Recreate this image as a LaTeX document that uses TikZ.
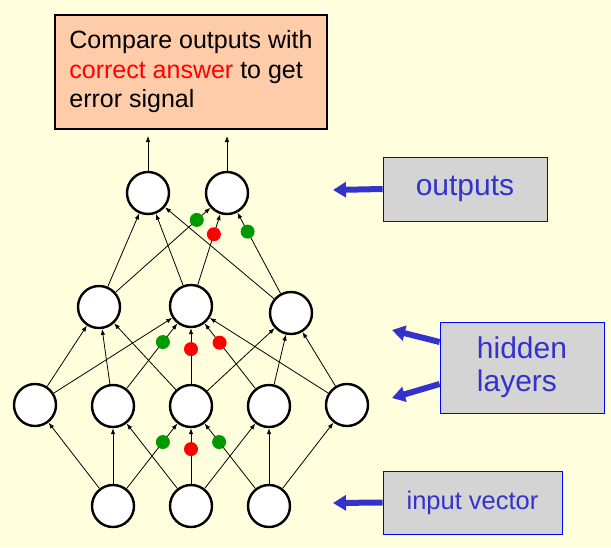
\documentclass[tikz,border=0pt]{standalone}
\usepackage{fontspec}
\setmainfont{Liberation Sans}
\usetikzlibrary{arrows.meta}
\definecolor{bgyellow}{HTML}{FFFFDD}
\definecolor{boxsalmon}{HTML}{FFCCAA}
\definecolor{labelblue}{HTML}{3333CC}
\definecolor{boxgray}{HTML}{D4D4D4}
\definecolor{dotgreen}{HTML}{009900}

\begin{document}
\begin{tikzpicture}[x=1pt, y=-1pt,
		neuron/.style={draw, circle, line width=2.4pt, fill=white, minimum size=42pt, inner sep=0pt},
		link/.style={-{Latex[length=6pt,width=4.5pt]}, line width=0.8pt},
		gdot/.style={circle, fill=dotgreen, minimum size=14pt, inner sep=0pt},
		rdot/.style={circle, fill=red, minimum size=14pt, inner sep=0pt},
		tag/.style={draw=blue, fill=boxgray, line width=0.8pt, text=labelblue},
		bigarrow/.style={-{Triangle[length=13pt,width=15pt]}, line width=6pt, draw=labelblue}]
		\fill[bgyellow] (0,0) rectangle (611,547);

		\node (cmp) [draw, fill=boxsalmon, line width=1.2pt, minimum width=272pt, minimum height=114pt, align=left, font=\fontsize{25}{29.5}\selectfont] at (191,72) {Compare outputs with\\ \textcolor{red}{correct answer} to get\\ error signal};
		\coordinate (cmp1) at (148,136);
		\coordinate (cmp2) at (227,136);

		\node (out1) [neuron] at (148,193) {};
		\node (out2) [neuron] at (227,193) {};
		\node (hid21) [neuron] at (99,307) {};
		\node (hid22) [neuron] at (191,306) {};
		\node (hid23) [neuron] at (291,313) {};
		\node (hid11) [neuron] at (35,405) {};
		\node (hid12) [neuron] at (113,406) {};
		\node (hid13) [neuron] at (191,406) {};
		\node (hid14) [neuron] at (269,406) {};
		\node (hid15) [neuron] at (347,405) {};
		\node (in1) [neuron] at (113,506) {};
		\node (in2) [neuron] at (191,506) {};
		\node (in3) [neuron] at (269,506) {};

		% Arrows
		\draw[link] (out1) -- (cmp1);
		\draw[link] (out2) -- (cmp2);
		\draw[link] (hid21) -- (out1);
		\draw[link] (hid22) -- (out1);
		\draw[link] (hid23) -- (out1);
		\draw[link] (hid21) -- node[gdot, pos=0.856] (g5) {} (out2);
		\draw[link] (hid22) -- node[rdot, pos=0.716] (r3) {} (out2);
		\draw[link] (hid23) -- node[gdot, pos=0.764] (g6) {} (out2);
		\draw[link] (hid11) -- (hid21);
		\draw[link] (hid11) -- (hid22);
		\draw[link] (hid12) -- (hid21);
		\draw[link] (hid12) -- node[gdot, pos=0.715] (g3) {} (hid22);
		\draw[link] (hid13) -- (hid21);
		\draw[link] (hid13) -- node[rdot, pos=0.625] (r2) {} (hid22);
		\draw[link] (hid13) -- (hid23);
		\draw[link] (hid14) -- node[rdot, pos=0.705] (r4) {} (hid22);
		\draw[link] (hid14) -- (hid23);
		\draw[link] (hid15) -- (hid22);
		\draw[link] (hid15) -- (hid23);
		\draw[link] (in1) -- (hid11);
		\draw[link] (in1) -- (hid12);
		\draw[link] (in1) -- node[gdot, pos=0.715] (g1) {} (hid13);
		\draw[link] (in2) -- (hid12);
		\draw[link] (in2) -- node[rdot, pos=0.625] (r1) {} (hid13);
		\draw[link] (in2) -- (hid14);
		\draw[link] (in3) -- node[gdot, pos=0.715] (g2) {} (hid13);
		\draw[link] (in3) -- (hid14);
		\draw[link] (in3) -- (hid15);

		% labels on the right
		\node (outtag) [tag, minimum width=164pt, minimum height=64pt, font=\fontsize{30}{36}\selectfont] at (465,189) {outputs};
		\node (hidtag) [tag, minimum width=164pt, minimum height=91pt, align=left, font=\fontsize{30}{33}\selectfont] at (522,367.5) {hidden\\layers};
		\node (intag) [tag, minimum width=179pt, minimum height=63pt, font=\fontsize{25.5}{30}\selectfont] at (472.5,502.5) {input vector};
		\coordinate (outtip) at (333,190);
		\coordinate (hidtip1) at (392,330);
		\coordinate (hidtip2) at (392,398);
		\coordinate (intip) at (333,503);
		\draw[bigarrow] (outtag.west) -- (outtip);
		\draw[bigarrow] ([yshift=25.5pt]hidtag.west) -- (hidtip1);
		\draw[bigarrow] ([yshift=-16.5pt]hidtag.west) -- (hidtip2);
		\draw[bigarrow] (intag.west) -- (intip);
	\end{tikzpicture}
\end{document}
